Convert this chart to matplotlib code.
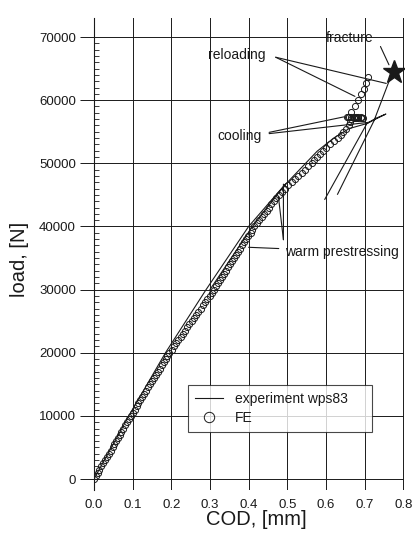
import numpy as np
import matplotlib
matplotlib.use("Agg")
import matplotlib.pyplot as plt
from matplotlib.ticker import FixedLocator

plt.rcParams['font.family'] = ['Liberation Sans', 'DejaVu Sans']

# FE result: loading branch (COD in mm, load in N)
fe_load = [0, 500, 1000, 1500, 2000, 2500, 3000, 3500, 4000, 4500,
           5000, 5500, 6000, 6500, 7000, 7500, 8000, 8500, 9000, 9500,
           10000, 10500, 11000, 11500, 12000, 12500, 13000, 13500, 14000, 14500,
           15000, 15500, 16000, 16500, 17000, 17500, 18000, 18500, 19000, 19500,
           20000, 20500, 21000, 21500, 22000, 22500, 23000, 23500, 24000, 24500,
           25000, 25500, 26000, 26500, 27000, 27500, 28000, 28500, 29000, 29500,
           30000, 30500, 31000, 31500, 32000, 32500, 33000, 33500, 34000, 34500,
           35000, 35500, 36000, 36500, 37000, 37500, 38000, 38500, 39000, 39500,
           40000, 40500, 41000, 41500, 42000, 42500, 43000, 43500, 44000, 44500,
           45000, 45500, 46000, 46500, 47000, 47500, 48000, 48500, 49000, 49500,
           50000, 50500, 51000, 51500, 52000, 52500, 53000, 53500, 54000, 54500,
           55000, 55500, 56000, 56500, 57000]
fe_cod = [0.000, 0.005, 0.010, 0.014, 0.019, 0.024, 0.029, 0.033, 0.038, 0.043,
          0.048, 0.052, 0.057, 0.062, 0.067, 0.071, 0.076, 0.081, 0.086, 0.090,
          0.095, 0.100, 0.105, 0.110, 0.115, 0.120, 0.125, 0.130, 0.135, 0.140,
          0.145, 0.150, 0.155, 0.160, 0.165, 0.170, 0.175, 0.180, 0.185, 0.190,
          0.195, 0.201, 0.206, 0.212, 0.218, 0.224, 0.229, 0.235, 0.241, 0.247,
          0.253, 0.258, 0.264, 0.270, 0.276, 0.281, 0.287, 0.293, 0.299, 0.304,
          0.310, 0.315, 0.320, 0.326, 0.331, 0.336, 0.342, 0.347, 0.352, 0.357,
          0.363, 0.368, 0.373, 0.378, 0.384, 0.389, 0.394, 0.399, 0.405, 0.410,
          0.415, 0.421, 0.428, 0.434, 0.440, 0.447, 0.453, 0.459, 0.465, 0.472,
          0.478, 0.486, 0.495, 0.503, 0.512, 0.520, 0.529, 0.537, 0.546, 0.554,
          0.563, 0.570, 0.577, 0.585, 0.592, 0.601, 0.611, 0.620, 0.630, 0.638,
          0.645, 0.652, 0.660, 0.663, 0.666]

# FE cooling at constant load
fe_cool_cod = [0.672, 0.678, 0.684, 0.690, 0.695, 0.690, 0.684, 0.678, 0.672, 0.666, 0.660, 0.655]
fe_cool_load = [57200, 57200, 57250, 57250, 57250, 57300, 57300, 57300, 57350, 57350, 57400, 57400]

# FE reloading
fe_reload_cod = [0.657, 0.666, 0.675, 0.683, 0.691, 0.698, 0.704, 0.710]
fe_reload_load = [57400, 58200, 59100, 60000, 60900, 61800, 62700, 63600]

# experiment wps83 (NaN separates the recorded branches)
exp_cod = [0.0, 0.045, 0.09, 0.185, 0.29, 0.40, 0.485, 0.577, 0.62, 0.66, 0.706,
           0.735, 0.755, 0.728, 0.706, 0.597, np.nan,
           0.63, 0.724, 0.762, 0.775, np.nan,
           0.30, 0.41, 0.495]
exp_load = [0, 5000, 10000, 20000, 30000, 40000, 46000, 51900, 54000, 55500, 56300,
            57200, 57800, 57100, 56300, 44300, np.nan,
            45100, 56700, 62800, 64500, np.nan,
            30000, 40000, 46700]

fracture_cod = [0.775]
fracture_load = [64500]

xticks = [0.0, 0.1, 0.2, 0.3, 0.4, 0.5, 0.6, 0.7, 0.8]
yticks = [0, 10000, 20000, 30000, 40000, 50000, 60000, 70000]

ink = '#1a1a1a'

fig = plt.figure(figsize=(4.19, 5.35), dpi=100)
ax = fig.add_axes([0.2243, 0.0834, 0.740, 0.8828])

fe_all_cod = fe_cod + fe_cool_cod + fe_reload_cod
fe_all_load = fe_load + fe_cool_load + fe_reload_load

ax.plot(exp_cod, exp_load, '-', color=ink, lw=0.8, label='experiment wps83', zorder=3)
ax.plot(fe_all_cod, fe_all_load, 'o', ms=4.4, mfc='none', mec=ink, mew=0.7,
        label='FE', zorder=4)
ax.plot(fracture_cod, fracture_load, '*', ms=17, color=ink, zorder=5)

ax.set_xlim(0, 0.802)
ax.set_ylim(-1800, 73000)
ax.set_xticks(xticks)
ax.set_xticklabels(['%.1f' % v for v in xticks])
ax.set_yticks(yticks)
ax.yaxis.set_minor_locator(FixedLocator([v for v in range(0, 70001, 1000) if v % 10000]))

ax.grid(True, which='major', color=ink, lw=0.7)
for s in ['top', 'right', 'bottom']:
    ax.spines[s].set_visible(False)
ax.spines['left'].set_color(ink)
ax.spines['left'].set_linewidth(0.8)

ax.tick_params(axis='x', length=0, pad=6, labelsize=9.5, colors=ink)
ax.tick_params(axis='y', which='major', direction='out', length=10, width=0.7,
               pad=3, labelsize=9.5, colors=ink)
ax.tick_params(axis='y', which='minor', direction='in', length=3.5, width=0.6, colors=ink)

ax.set_xlabel('COD, [mm]', fontsize=14.5, color=ink)
ax.xaxis.set_label_coords(0.523, -0.0606)
ax.xaxis.label.set_va('center')
ax.set_ylabel('load, [N]', fontsize=14.5, color=ink)
ax.yaxis.set_label_coords(-0.239, 0.49)
ax.yaxis.label.set_va('center')

# annotations with plain leader lines
lead = dict(arrowstyle='-', color=ink, lw=0.8, shrinkA=0, shrinkB=0)
ax.text(0.662, 69800, 'fracture', ha='center', va='center', fontsize=10, color=ink)
ax.annotate('', xy=(0.763, 65600), xytext=(0.741, 68500), arrowprops=lead)

ax.text(0.294, 67100, 'reloading', ha='left', va='center', fontsize=10, color=ink)
ax.annotate('', xy=(0.675, 60600), xytext=(0.47, 66800), arrowprops=lead)
ax.annotate('', xy=(0.756, 62650), xytext=(0.47, 66800), arrowprops=lead)

ax.text(0.319, 54400, 'cooling', ha='left', va='center', fontsize=10, color=ink)
ax.annotate('', xy=(0.646, 57350), xytext=(0.453, 54900), arrowprops=lead)
ax.annotate('', xy=(0.712, 56500), xytext=(0.453, 54700), arrowprops=lead)

ax.text(0.495, 36000, 'warm prestressing', ha='left', va='center', fontsize=10, color=ink)
ax.annotate('', xy=(0.477, 44760), xytext=(0.49, 37900), arrowprops=lead)
ax.annotate('', xy=(0.49, 46700), xytext=(0.49, 37900), arrowprops=lead)
ax.annotate('', xy=(0.40, 36700), xytext=(0.478, 36500), arrowprops=lead)

leg = ax.legend(loc='lower left', bbox_to_anchor=(0.303, 0.124, 0.594, 0.095),
                mode='expand', borderaxespad=0, fontsize=10, frameon=True,
                fancybox=False, handlelength=2.0, handletextpad=0.9,
                borderpad=0.5, labelspacing=0.35, markerscale=1.7)
leg.get_frame().set_edgecolor(ink)
leg.get_frame().set_linewidth(0.8)
for t in leg.get_texts():
    t.set_color(ink)

fig.savefig('out.png', dpi=100, facecolor='white')
